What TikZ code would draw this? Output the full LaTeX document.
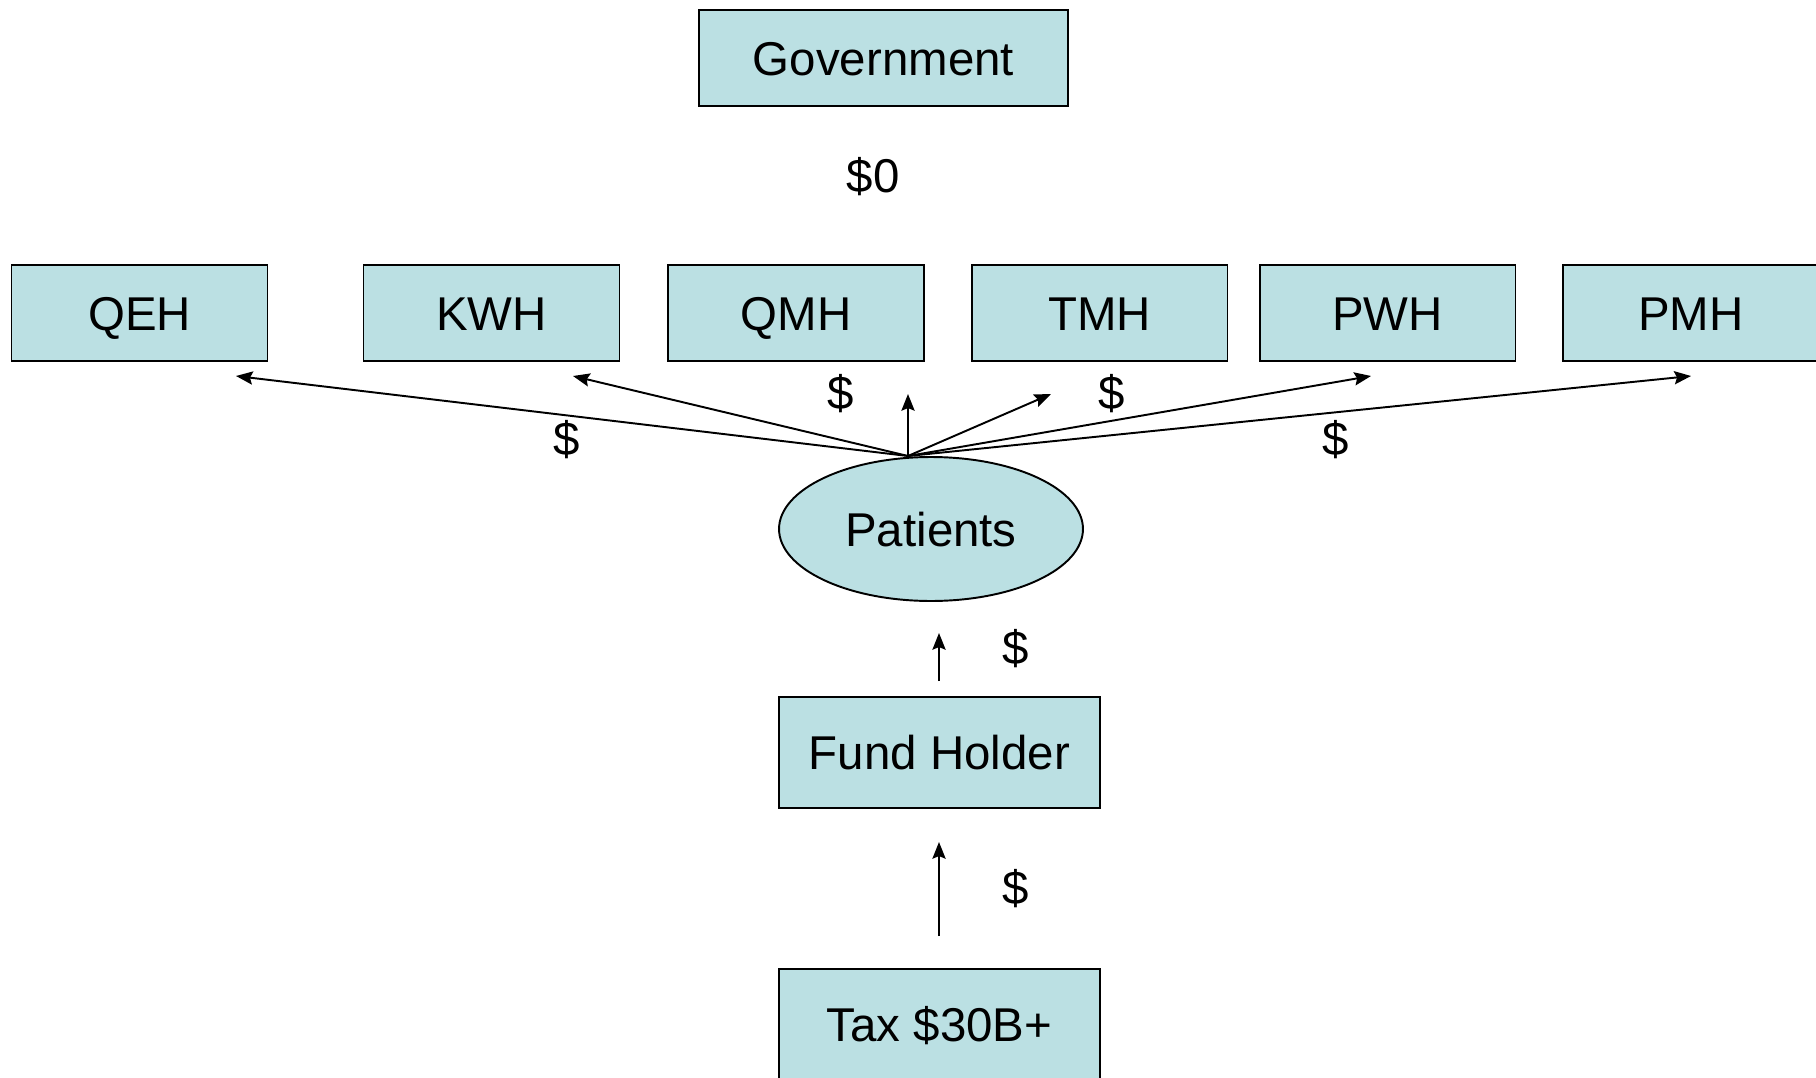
\documentclass[tikz,border=0pt]{standalone}
\usepackage{fontspec}
\setmainfont{Liberation Sans}
\usetikzlibrary{shapes.geometric,arrows.meta}
\definecolor{boxfill}{RGB}{187,224,227}

\begin{document}
\begin{tikzpicture}[x=0.02cm, y=-0.02cm,
  box/.style={draw, line width=1.1pt, fill=boxfill, minimum width=5.12cm, minimum height=1.92cm, inner sep=0pt, text height=19.5pt, text depth=0pt, font=\fontsize{27}{32}\selectfont},
  money/.style={inner sep=0pt, font=\fontsize{27}{32}\selectfont},
  flow/.style={line width=1.1pt, -{Stealth[length=9.5pt,width=7.5pt,inset=1.5pt]}}]

\useasboundingbox (0,0) rectangle (1816,1078);

% Gouvernement
\node[box, minimum width=7.38cm] (gov) at (883.5,58) {Government};
\node[money] (zero) at (873,177) {\$0};

% Hôpitaux
\node[box] (qeh) at (139.5,313) {QEH};
\node[box] (kwh) at (491.5,313) {KWH};
\node[box] (qmh) at (796,313) {QMH};
\node[box] (tmh) at (1099.5,313) {TMH};
\node[box] (pwh) at (1387.5,313) {PWH};
\node[box] (pmh) at (1691,313) {PMH};

% Patients, fonds, impôt
\node[draw, line width=1.1pt, fill=boxfill, ellipse, minimum width=6.08cm, minimum height=2.88cm, inner sep=0pt, text height=19.5pt, text depth=0pt, font=\fontsize{27}{32}\selectfont] (pat) at (931,529) {Patients};
\node[box, minimum width=6.42cm, minimum height=2.22cm] (fund) at (939.5,752.5) {Fund Holder};
\node[box, minimum width=6.42cm, minimum height=2.22cm] (tax) at (939.5,1024.5) {Tax \$30B+};

% Points des flèches
\coordinate (fan) at (908,456);
\coordinate (toqeh) at (236,376);
\coordinate (tokwh) at (573,376);
\coordinate (toqmh) at (908,394);
\coordinate (totmh) at (1051,394);
\coordinate (topwh) at (1371,376);
\coordinate (topmh) at (1691,376);
\coordinate (fundtop) at (939,681);
\coordinate (patbot) at (939,633);
\coordinate (taxtop) at (939,936);
\coordinate (fundbot) at (939,842);

% Flèches
\foreach \t in {toqeh,tokwh,toqmh,totmh,topwh,topmh}
  \draw[flow] (fan) -- (\t);
\draw[flow] (fundtop) -- (patbot);
\draw[flow] (taxtop) -- (fundbot);

% Montants
\node[money] (d1) at (567,440) {\$};
\node[money] (d2) at (841,394) {\$};
\node[money] (d3) at (1112,394) {\$};
\node[money] (d4) at (1336,440) {\$};
\node[money] (d5) at (1016,649) {\$};
\node[money] (d6) at (1016,889) {\$};

\end{tikzpicture}
\end{document}
